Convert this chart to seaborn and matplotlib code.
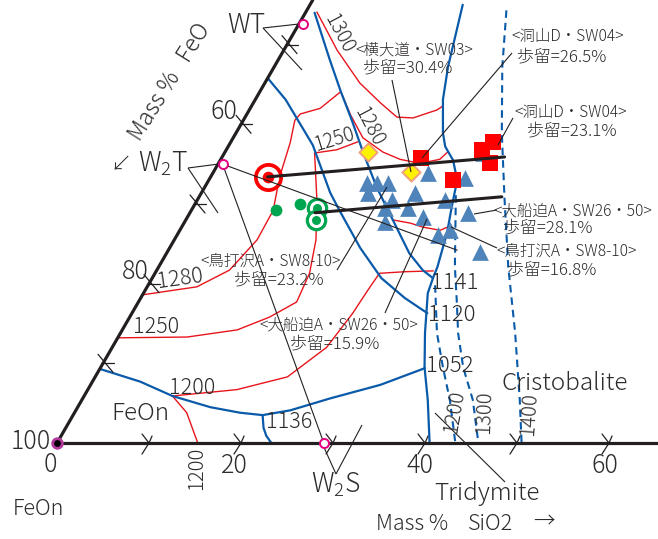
import numpy as np
import matplotlib
matplotlib.use("Agg")
import matplotlib.pyplot as plt
import seaborn as sns

sns.set_theme(style="white")
plt.rcParams["font.family"] = ["Noto Sans CJK JP", "DejaVu Sans"]
plt.rcParams["font.weight"] = "light"
plt.rcParams["mathtext.default"] = "regular"
plt.rcParams["axes.unicode_minus"] = False

# ============================================================
# DATA  -- compositions in mass %: (SiO2, TiO2), FeO = rest
# ============================================================

# compounds on the diagram
phase_names = ["WT", "W2T", "W2S"]
phase_sio2 = [0.4, 0.5, 29.0]
phase_tio2 = [52.6, 35.0, 0.0]

# slag analyses
tri_sio2 = [17.4, 18.5, 19.7, 18.1, 23.4, 23.2, 27.7, 28.1, 21.2,
            23.4, 20.9, 26.9, 25.6, 21.8, 30.2, 28.4, 29.4, 34.0]
tri_tio2 = [32.6, 32.6, 32.6, 31.4, 33.9, 31.4, 33.3, 36.4, 30.5,
            29.5, 29.5, 30.5, 28.4, 27.7, 28.9, 26.1, 26.7, 24.0]
sq_sio2 = [21.7, 26.5, 27.8, 28.5, 29.5]
sq_tio2 = [35.8, 33.0, 36.8, 37.8, 35.1]
dia_sio2 = [15.5, 21.5]
dia_tio2 = [36.5, 34.0]
gdot_sio2 = [9.2, 11.4]
gdot_tio2 = [29.2, 30.0]
gring_sio2 = [13.5, 14.2]
gring_tio2 = [29.5, 28.0]
rring_sio2 = [6.2]
rring_tio2 = [33.4]

# tie lines (black)
tie1_sio2 = [6.2, 30.7]
tie1_tio2 = [33.4, 35.9]
tie2_sio2 = [13.6, 32.9]
tie2_tio2 = [28.9, 30.9]
join_sio2 = [0.5, 31.4]
join_tio2 = [35.0, 24.2]

# field boundaries (blue)
b_feon_sio2 = [0.0, 5.2, 9.6, 14.4, 18.0, 20.6, 23.3, 26.9, 31.5, 35.3]
b_feon_tio2 = [9.3, 7.7, 5.9, 4.5, 3.8, 3.5, 4.1, 5.6, 7.3, 9.4]
b_1136_sio2 = [20.6, 21.5, 22.3, 23.3]
b_1136_tio2 = [3.5, 1.9, 0.9, 0.0]
b_sil_sio2 = [16.6, 18.9, 20.4, 22.5, 23.6, 25.3, 27.0, 28.1, 29.2,
              30.3, 30.5, 30.9, 32.0, 33.1, 35.2, 37.6, 40.5]
b_sil_tio2 = [55.0, 47.2, 43.1, 38.9, 37.2, 35.5, 33.0, 29.6, 26.4,
              22.1, 20.8, 18.8, 16.3, 13.8, 9.5, 5.4, 0.0]
b_1141_sio2 = [1.0, 5.6, 8.8, 11.8, 15.1, 18.7, 22.5, 26.4, 28.9, 30.5]
b_1141_tio2 = [54.0, 48.1, 44.1, 40.5, 36.4, 32.1, 28.0, 23.8, 21.7, 20.7]
b_1120_sio2 = [0.0, 3.3, 9.1, 14.0, 16.1, 20.7, 24.9, 28.7, 32.1]
b_1120_tio2 = [45.8, 43.1, 37.4, 31.4, 29.2, 24.5, 20.7, 18.2, 16.3]

# silica isotherms (blue dashed)
d1200_sio2 = [31.2, 34.4, 37.2, 40.0, 43.3]
d1200_tio2 = [19.8, 13.8, 9.5, 5.4, 0.0]
d1300_sio2 = [27.8, 32.2, 34.5, 36.7, 39.4, 42.5, 45.8]
d1300_tio2 = [31.1, 22.1, 17.9, 13.8, 9.5, 5.4, 0.0]
d1400_sio2 = [21.7, 24.8, 28.9, 33.4, 38.0, 42.9, 47.6, 50.5]
d1400_tio2 = [54.3, 47.2, 38.9, 30.5, 22.1, 13.8, 5.4, 0.0]

# liquidus isotherms (red)
r1300_sio2 = [1.2, 5.8, 10.3, 13.8, 16.5, 18.3, 20.4, 20.8]
r1300_tio2 = [54.1, 49.3, 45.2, 42.7, 40.9, 40.8, 41.8, 42.3]
r1280a_sio2 = [0.0, 5.4, 7.9, 9.0, 8.9, 7.5, 6.5, 5.6, 5.8, 7.6, 8.8]
r1280a_tio2 = [18.6, 19.6, 21.7, 25.5, 29.2, 33.4, 37.7, 40.5, 41.3, 42.0, 44.1]
r1280b_sio2 = [8.8, 11.3, 14.1, 17.2, 19.5, 21.9, 23.8, 24.2]
r1280b_tio2 = [44.1, 41.2, 38.3, 36.5, 35.6, 35.1, 35.6, 36.5]
r1250a_sio2 = [0.0, 7.5, 12.5, 15.2, 17.2, 16.8, 15.4, 13.0, 9.8, 12.0, 13.8]
r1250a_tio2 = [13.2, 13.3, 14.2, 15.8, 17.7, 21.3, 25.5, 30.5, 36.4, 36.8, 37.8]
r1250b_sio2 = [22.5, 24.6, 26.2, 28.3, 28.9]
r1250b_tio2 = [28.0, 27.6, 27.1, 26.7, 27.1]
r1200a_sio2 = [9.6, 16.2, 20.9, 23.3, 24.0, 24.2, 24.4, 27.1, 30.1]
r1200a_tio2 = [5.9, 6.7, 8.3, 12.0, 16.3, 19.2, 21.3, 21.5, 21.6]
r1200b_sio2 = [9.6, 12.2, 15.3]
r1200b_tio2 = [5.9, 3.8, 0.0]

bottom_ticks = [10, 20, 30, 40, 50, 60]       # SiO2 %
left_ticks = [90, 80, 70, 60, 50]             # FeO %

# ============================================================
# GEOMETRY
# ============================================================
K = 9.2            # pixels per mass %
OX, OY = 57, 443   # pixel position of the FeO corner
H = np.sqrt(3) / 2


def tern(sio2, tio2):
    sio2 = np.asarray(sio2, float)
    tio2 = np.asarray(tio2, float)
    return sio2 + tio2 / 2, tio2 * H


def pix(x, y):
    return (x - OX) / K, (OY - y) / K


INK = "#231f20"
TXT = "#2e2b2b"
RED = "#e8141c"
BLUE = "#0a5aaa"

fig = plt.figure(figsize=(6.58, 5.39), dpi=100)
ax = fig.add_axes([0, 0, 1, 1])
ax.set_xlim((0 - OX) / K, (658 - OX) / K)
ax.set_ylim((OY - 539) / K, OY / K)
ax.axis("off")


def curve(sio2, tio2, color, lw, ls="-", z=3):
    x, y = tern(sio2, tio2)
    sns.lineplot(x=x, y=y, sort=False, estimator=None, color=color,
                 lw=lw, linestyle=ls, ax=ax, zorder=z)


def seg(p, q, lw=0.8, color=INK, z=7):
    a, b = pix(*p), pix(*q)
    ax.plot([a[0], b[0]], [a[1], b[1]], color=color, lw=lw, zorder=z,
            solid_capstyle="butt")


def txt(x, y, s, size, rot=0, ha="center", color=TXT):
    ax.text(*pix(x, y), s, fontsize=size, rotation=rot, ha=ha, va="center",
            color=color, rotation_mode="anchor", zorder=8)


# ------------------------------------------------------------
# frame + ticks
# ------------------------------------------------------------
ytop = OY / K
ax.plot([0, ytop / H / 2], [0, ytop], color=INK, lw=2.3, zorder=5)
ax.plot([0, (658 - OX) / K], [0, 0], color=INK, lw=2.3, zorder=5)

for v in bottom_ticks:
    ax.plot([v - 0.76, v, v + 0.33], [0.98, 0, 0.76], color=INK, lw=0.9, zorder=5)
    ax.plot([v, v - 0.76], [0, -1.2], color=INK, lw=0.9, zorder=5)

for v in left_ticks:
    tx, ty = tern(0, 100 - v)
    ax.plot([tx - 0.54, tx + 1.09], [ty + 0.98, ty - 0.98], color=INK, lw=0.9, zorder=5)
    ax.plot([tx - 0.2, tx + 1.2], [ty, ty], color=INK, lw=0.9, zorder=5)

# ------------------------------------------------------------
# isotherms and boundaries
# ------------------------------------------------------------
for sx, tx_ in [(r1300_sio2, r1300_tio2), (r1280a_sio2, r1280a_tio2),
                (r1280b_sio2, r1280b_tio2), (r1250a_sio2, r1250a_tio2),
                (r1250b_sio2, r1250b_tio2), (r1200a_sio2, r1200a_tio2),
                (r1200b_sio2, r1200b_tio2)]:
    curve(sx, tx_, RED, 1.0)

for sx, tx_ in [(b_feon_sio2, b_feon_tio2), (b_1136_sio2, b_1136_tio2),
                (b_sil_sio2, b_sil_tio2), (b_1141_sio2, b_1141_tio2),
                (b_1120_sio2, b_1120_tio2)]:
    curve(sx, tx_, BLUE, 1.6)

for sx, tx_ in [(d1200_sio2, d1200_tio2), (d1300_sio2, d1300_tio2),
                (d1400_sio2, d1400_tio2)]:
    curve(sx, tx_, BLUE, 1.5, ls=(0, (3.6, 2.4)))

# ------------------------------------------------------------
# samples
# ------------------------------------------------------------
x, y = tern(tri_sio2, tri_tio2)
sns.scatterplot(x=x, y=y, marker="^", s=145, color="#4f84bb", linewidth=0, ax=ax, zorder=6)
x, y = tern(sq_sio2, sq_tio2)
sns.scatterplot(x=x, y=y, marker="s", s=128, color="#ff0000", linewidth=0, ax=ax, zorder=6)
x, y = tern(dia_sio2, dia_tio2)
sns.scatterplot(x=x, y=y, marker="D", s=85, color="#fff200", edgecolor="#f0a07a",
                linewidth=1.4, ax=ax, zorder=6)
x, y = tern(gdot_sio2, gdot_tio2)
sns.scatterplot(x=x, y=y, marker="o", s=72, color="#00a54f", linewidth=0, ax=ax, zorder=6)
x, y = tern(gring_sio2, gring_tio2)
sns.scatterplot(x=x, y=y, marker="o", s=175, color="white", edgecolor="#00a54f",
                linewidth=2.3, ax=ax, zorder=6)
sns.scatterplot(x=x, y=y, marker="o", s=42, color="#00a54f", linewidth=0, ax=ax, zorder=6)
x, y = tern(rring_sio2, rring_tio2)
sns.scatterplot(x=x, y=y, marker="o", s=330, color="white", edgecolor="#ff0000",
                linewidth=2.7, ax=ax, zorder=6)
sns.scatterplot(x=x, y=y, marker="o", s=70, color="#ff0000", linewidth=0, ax=ax, zorder=6)

# tie lines
for sx, tx_ in [(tie1_sio2, tie1_tio2), (tie2_sio2, tie2_tio2)]:
    curve(sx, tx_, INK, 2.2, z=7)
curve(join_sio2, join_tio2, INK, 0.8, z=7)
curve([phase_sio2[1], phase_sio2[2]], [phase_tio2[1], phase_tio2[2]], INK, 0.8, z=7)

# compounds
x, y = tern(phase_sio2, phase_tio2)
sns.scatterplot(x=x, y=y, marker="o", s=42, color="white", edgecolor="#e4007f",
                linewidth=1.4, ax=ax, zorder=9)
x, y = tern([0], [0])
sns.scatterplot(x=x, y=y, marker="o", s=80, color="#b23a9a", linewidth=0, ax=ax, zorder=9)
sns.scatterplot(x=x, y=y, marker="o", s=24, color="black", linewidth=0, ax=ax, zorder=9)

# ------------------------------------------------------------
# leader lines
# ------------------------------------------------------------
seg((263, 28), (299, 24))
seg((263, 28), (302, 70))
seg((188, 168), (219, 164))
seg((188, 168), (218, 213))
seg((322, 443), (336, 474))
seg((336, 474), (362, 425))
seg((392, 80), (411, 172))
seg((512, 53), (422, 158))
seg((513, 118), (498, 145))
seg((497, 210), (474, 214))
seg((497, 248), (451, 227))
seg((337, 270), (387, 187))
seg((385, 313), (427, 219))
seg((435, 413), (505, 482))

# ------------------------------------------------------------
# text
# ------------------------------------------------------------
txt(170, 82, "Mass %   FeO", 16.5, rot=58)
txt(246, 25, phase_names[0], 19)
txt(224, 112, "60", 18)
txt(121, 165, "↙", 15)
txt(163, 164, "W$_2$T", 19)
txt(135, 272, "80", 18)
txt(31, 442, "100", 18)
txt(50, 465, "0", 18)
txt(234, 466, "20", 18)
txt(420, 466, "40", 18)
txt(605, 466, "60", 18)
txt(336, 485, "W$_2$S", 19)
txt(140, 414, "FeOn", 17.5)
txt(38, 509, "FeOn", 15.5)
txt(565, 383, "Cristobalite", 17.5)
txt(487, 493, "Tridymite", 17.5)
txt(412, 524, "Mass %", 15.5)
txt(491, 524, "SiO2", 15.5)
txt(544, 522, "→", 15.5)

txt(180, 279, "1280", 15.5, rot=8)
txt(156, 327, "1250", 15.5)
txt(192, 388, "1200", 15.5)
txt(289, 422, "1136", 15.5)
txt(197, 468, "1200", 14.5, rot=90)
txt(455, 283, "1141", 16)
txt(452, 315, "1120", 16)
txt(450, 366, "1052", 16)
txt(454, 412, "1200", 14.5, rot=80)
txt(484, 412, "1300", 14.5, rot=88)
txt(529, 414, "1400", 14.5, rot=86)
txt(339, 34, "1300", 14, rot=-62)
txt(369, 127, "1280", 14, rot=-62)
txt(334, 140, "1250", 14, rot=17)

txt(414, 50, "<横大道・SW03>", 11.2)
txt(408, 68, "歩留=30.4%", 12.2)
txt(568, 36, "<洞山D・SW04>", 11.2)
txt(562, 57, "歩留=26.5%", 12.2)
txt(571, 112, "<洞山D・SW04>", 11.2)
txt(572, 131, "歩留=23.1%", 12.2)
txt(573, 211, "<大船迫A・SW26・50>", 11.2)
txt(548, 228, "歩留=28.1%", 12.2)
txt(567, 251, "<鳥打沢A・SW8-10>", 11.2)
txt(552, 270, "歩留=16.8%", 12.2)
txt(271, 261, "<鳥打沢A・SW8-10>", 11.2)
txt(279, 280, "歩留=23.2%", 12.2)
txt(339, 325, "<大船迫A・SW26・50>", 11.2)
txt(335, 344, "歩留=15.9%", 12.2)

plt.savefig("out.png", dpi=100)
plt.close()
